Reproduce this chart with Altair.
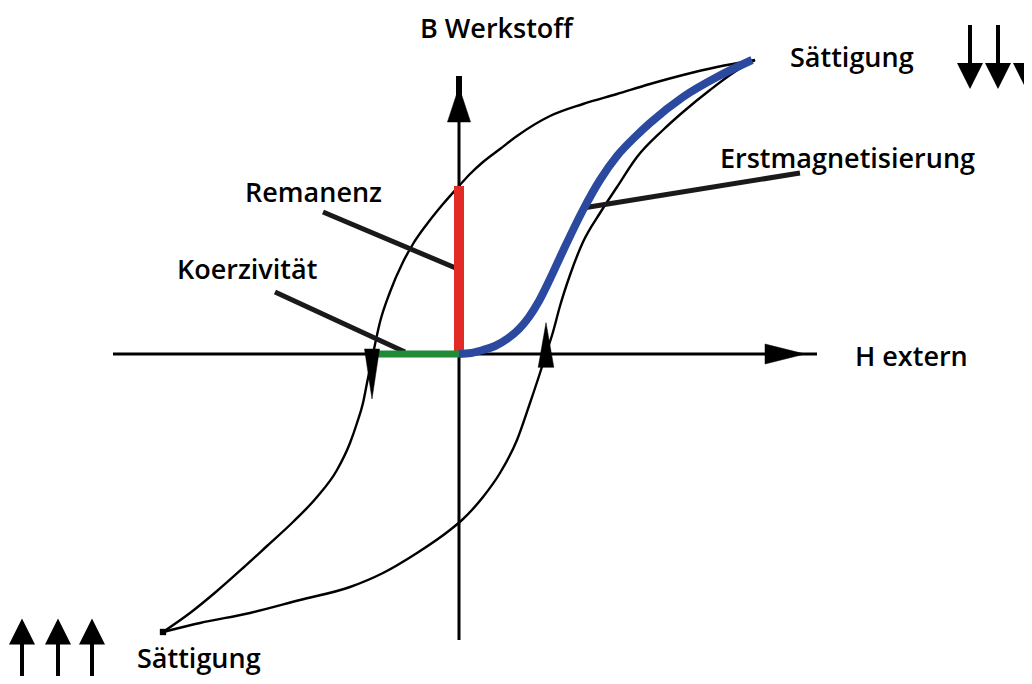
import altair as alt
import pandas as pd

# ---------------- data (H = field, B = flux density, arbitrary units) ----------------
# descending branch of the hysteresis loop (from +saturation to -saturation)
upper_H = [2.96, 2.58, 2.24, 1.91, 1.58, 1.24, 0.91, 0.58, 0.41, 0.24, 0.11, 0.00, -0.16, -0.32,
           -0.46, -0.56, -0.69, -0.79, -0.86, -0.92, -0.96, -1.02, -1.09, -1.22, -1.42, -1.66,
           -1.92, -2.16, -2.42, -2.69, -2.96]
upper_B = [2.94, 2.87, 2.79, 2.70, 2.60, 2.50, 2.38, 2.18, 2.05, 1.92, 1.80, 1.68, 1.50, 1.30,
           1.10, 0.92, 0.62, 0.32, 0.00, -0.29, -0.49, -0.69, -0.89, -1.16, -1.43, -1.68,
           -1.92, -2.14, -2.37, -2.59, -2.78]
# ascending branch (from -saturation to +saturation)
lower_H = [-2.96, -2.59, -2.09, -1.59, -1.09, -0.76, -0.42, -0.09, 0.03, 0.24, 0.41, 0.58, 0.71,
           0.81, 0.87, 0.94, 1.01, 1.11, 1.24, 1.41, 1.58, 1.78, 2.04, 2.24, 2.51, 2.74, 2.96]
lower_B = [-2.78, -2.69, -2.59, -2.46, -2.33, -2.19, -1.99, -1.76, -1.66, -1.43, -1.19, -0.86,
           -0.49, -0.19, 0.00, 0.22, 0.48, 0.79, 1.12, 1.41, 1.67, 1.97, 2.24, 2.42, 2.64, 2.81, 2.94]
# initial magnetisation curve (Erstmagnetisierung)
init_H = [0.00, 0.12, 0.24, 0.36, 0.48, 0.60, 0.70, 0.80, 0.91, 1.04, 1.24, 1.41, 1.58, 1.76,
          1.91, 2.24, 2.58, 2.93]
init_B = [0.00, 0.01, 0.04, 0.08, 0.15, 0.25, 0.37, 0.53, 0.75, 1.03, 1.44, 1.74, 1.98, 2.17,
          2.31, 2.57, 2.77, 2.94]

remanence_B = 1.68
coercivity_H = -0.84

# axes extent
axis_H = [-3.46, 3.58]
axis_B = [-2.86, 2.50]
axis_tip_B = 2.78
axis_head_H = 3.26
axis_head_B = 2.495

# direction arrows on the loop
loop_arrow_H = [-0.87, 0.87]
loop_arrow_B = [-0.20, 0.09]
loop_arrow_dir = ["down", "up"]

# leader lines (label -> curve)
leader_H1 = [-1.36, -1.84, 3.41]
leader_B1 = [1.42, 0.62, 1.81]
leader_H2 = [-0.01, -0.54, 1.24]
leader_B2 = [0.85, 0.02, 1.46]

# text labels
label_text = ["B Werkstoff", "Sättigung", "Erstmagnetisierung", "H extern", "Remanenz",
              "Koerzivität", "Sättigung"]
label_H = [-0.39, 3.31, 2.61, 3.96, -2.14, -2.82, -3.22]
label_B = [3.16, 2.87, 1.86, -0.12, 1.52, 0.75, -3.14]

# big field-direction arrows
down_arrow_H = [5.11, 5.39, 5.67]
up_arrow_H = [-4.37, -4.01, -3.67]
down_shaft_B = [3.29, 2.84]
down_head_B = 2.78
up_shaft_B = [-2.80, -3.22]
up_head_B = -2.775

# ---------------- chart ----------------
xs = alt.Scale(domain=[-4.51, 5.65], nice=False, zero=False)
ys = alt.Scale(domain=[-3.22, 3.46], nice=False, zero=False)


def X(f="H"):
    return alt.X(f"{f}:Q", scale=xs, axis=None)


def Y(f="B"):
    return alt.Y(f"{f}:Q", scale=ys, axis=None)


upper_df = pd.DataFrame({"H": upper_H, "B": upper_B})
lower_df = pd.DataFrame({"H": lower_H, "B": lower_B})
init_df = pd.DataFrame({"H": init_H, "B": init_B})

loop_line = dict(color="black", strokeWidth=2.4, interpolate="monotone")
upper = alt.Chart(upper_df).mark_line(**loop_line).encode(x=X(), y=Y(), order="H:Q")
lower = alt.Chart(lower_df).mark_line(**loop_line).encode(x=X(), y=Y(), order="H:Q")

axes_df = pd.DataFrame({
    "H": [axis_H[0], 0.0, 0.0],
    "B": [0.0, axis_B[0], axis_head_B],
    "H2": [axis_H[1], 0.0, 0.0],
    "B2": [0.0, axis_head_B, axis_tip_B],
    "w": [3.0, 3.0, 6.0],
})
axes = alt.Chart(axes_df).mark_rule(color="black", strokeCap="butt").encode(
    x=X(), y=Y(), x2="H2:Q", y2="B2:Q",
    strokeWidth=alt.StrokeWidth("w:Q", scale=None))

yhead = alt.Chart(pd.DataFrame({"H": [0.0], "B": [axis_head_B]})).mark_point(
    shape="M0,-1L0.66,1L-0.66,1Z", filled=True, fill="black", stroke="black",
    strokeWidth=0.5, size=1225, opacity=1).encode(x=X(), y=Y())
xhead = alt.Chart(pd.DataFrame({"H": [axis_head_H], "B": [0.0]})).mark_point(
    shape="M1,0L-1,-0.5L-1,0.5Z", filled=True, fill="black", stroke="black",
    strokeWidth=0.5, size=1600, opacity=1).encode(x=X(), y=Y())

red = alt.Chart(pd.DataFrame({"H": [0.0], "B": [0.0], "B2": [remanence_B]})).mark_rule(
    color="#e32b26", strokeWidth=10, strokeCap="butt").encode(x=X(), y=Y(), y2="B2:Q")
green = alt.Chart(pd.DataFrame({"H": [coercivity_H], "H2": [0.0], "B": [0.0]})).mark_rule(
    color="#1f8a37", strokeWidth=7, strokeCap="butt").encode(x=X(), x2="H2:Q", y=Y())
blue = alt.Chart(init_df).mark_line(color="#2b4a9f", strokeWidth=8, interpolate="monotone",
                                    strokeCap="butt").encode(x=X(), y=Y(), order="H:Q")

la_df = pd.DataFrame({"H": loop_arrow_H, "B": loop_arrow_B, "d": loop_arrow_dir})
loop_down = alt.Chart(la_df[la_df.d == "down"]).mark_point(
    shape="M-0.3,-1L0.3,-1L0,1Z", filled=True, fill="black", stroke="black",
    strokeWidth=0.5, size=2500, opacity=1).encode(x=X(), y=Y())
loop_up = alt.Chart(la_df[la_df.d == "up"]).mark_point(
    shape="M0,-1L0.35,1L-0.35,1Z", filled=True, fill="black", stroke="black",
    strokeWidth=0.5, size=2000, opacity=1).encode(x=X(), y=Y())

sat_sq = alt.Chart(pd.DataFrame({"H": [lower_H[0]], "B": [lower_B[0]]})).mark_square(
    color="black", size=40, opacity=1).encode(x=X(), y=Y())

leaders = alt.Chart(pd.DataFrame({"H": leader_H1, "B": leader_B1,
                                  "H2": leader_H2, "B2": leader_B2})).mark_rule(
    color="#1a1a1a", strokeWidth=5, strokeCap="butt").encode(
    x=X(), y=Y(), x2="H2:Q", y2="B2:Q")

labels = alt.Chart(pd.DataFrame({"H": label_H, "B": label_B, "t": label_text})).mark_text(
    align="left", baseline="alphabetic", font="Open Sans", fontSize=27, fontWeight=600,
    color="black"
).encode(x=X(), y=Y(), text="t:N")

shaft_df = pd.DataFrame({
    "H": down_arrow_H + up_arrow_H,
    "B": [down_shaft_B[0]] * 3 + [up_shaft_B[0]] * 3,
    "B2": [down_shaft_B[1]] * 3 + [up_shaft_B[1]] * 3,
})
shafts = alt.Chart(shaft_df).mark_rule(color="black", strokeWidth=4, strokeCap="butt").encode(
    x=X(), y=Y(), y2="B2:Q")
down_heads = alt.Chart(pd.DataFrame({"H": down_arrow_H, "B": [down_head_B] * 3})).mark_point(
    shape="M-1,-1L1,-1L0,1Z", filled=True, fill="black", size=676, opacity=1,
    strokeWidth=0).encode(x=X(), y=Y())
up_heads = alt.Chart(pd.DataFrame({"H": up_arrow_H, "B": [up_head_B] * 3})).mark_point(
    shape="M0,-1L1,1L-1,1Z", filled=True, fill="black", size=676, opacity=1,
    strokeWidth=0).encode(x=X(), y=Y())

chart = alt.layer(
    axes, yhead, xhead, upper, lower, leaders, red, green, blue, loop_down, loop_up, sat_sq,
    shafts, down_heads, up_heads, labels
).properties(
    width=1016, height=668, padding=0,
    autosize=alt.AutoSizeParams(type="none"),
    background="white",
).configure_view(stroke=None)

chart.save("out.html", embed_options={"renderer": "svg", "actions": False})
